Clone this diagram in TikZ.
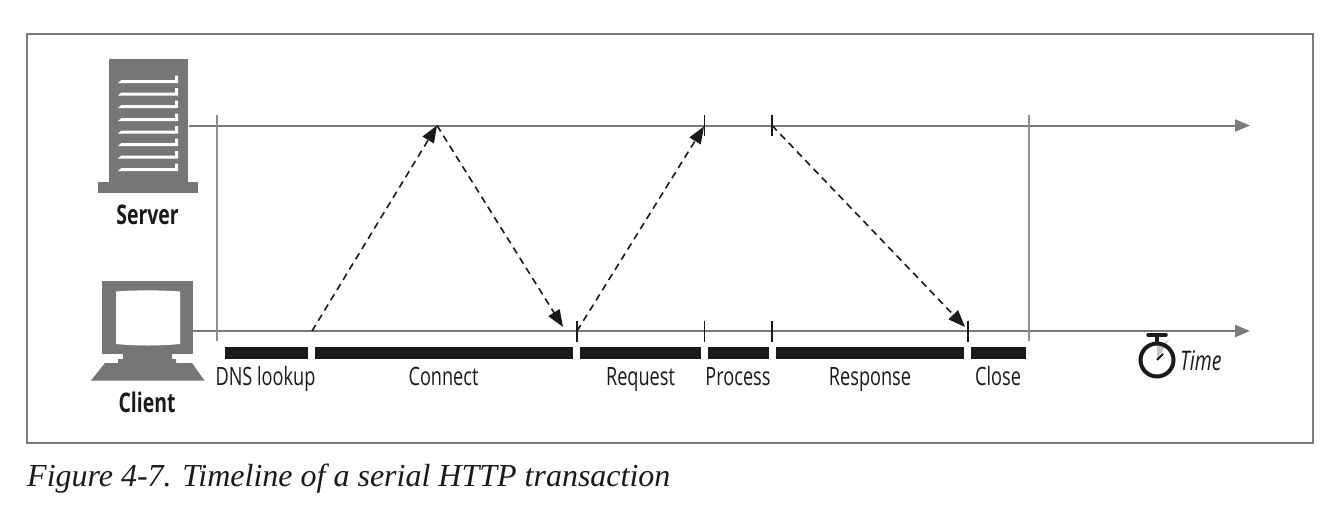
\documentclass[tikz,border=0pt]{standalone}
\usepackage{fontspec}
\setmainfont[FakeStretch=0.72]{Open Sans}
\newfontfamily\capfont{Liberation Serif}
\usetikzlibrary{arrows.meta}
\definecolor{icon}{HTML}{767676}
\definecolor{axisc}{HTML}{7A7A7A}
\definecolor{barc}{HTML}{1A1A1A}
\tikzset{
  axisline/.style={draw=axisc,line width=2pt,-{Triangle[length=15pt,width=12pt,fill=axisc]}},
  guide/.style={draw=axisc!85,line width=2pt},
  tick/.style={draw=barc,line width=1.8pt},
  msg/.style={draw=barc,line width=1.6pt,dash pattern=on 7pt off 5pt,-{Triangle[length=17pt,width=13pt,fill=barc]}},
  bar/.style={fill=barc,draw=none},
  lab/.style={font=\fontsize{25.2}{25}\selectfont,text=barc,inner sep=0pt,anchor=base},
  host/.style={font=\fontsize{27}{27}\selectfont\bfseries,text=barc,inner sep=0pt,anchor=base},
  slot/.style={fill=white,draw=none}
}
\begin{document}
\begin{tikzpicture}[x=1pt,y=-1pt]
\useasboundingbox (0,0) rectangle (1332,512);
\fill[white] (0,0) rectangle (1332,512);
\draw[draw=axisc,line width=1.4pt] (27,34) rectangle (1313,443);
% server icon
\fill[icon] (108.5,59) rectangle (187.5,182);
\fill[icon] (98,182) rectangle (197.5,192.5);
\foreach \y in {81.5,94,106.5,119.5,132,144.5,157,169.5}{
  \fill[slot] (118,\y+1.5) -- (121.5,\y-1.5) -- (175,\y-1.5) -- (175,\y-6) -- (178,\y-6) -- (178,\y+1.5) -- cycle;
}
% client icon
\fill[icon] (102,281) rectangle (192.5,354);
\fill[white] (116,291.5) .. controls (135,290) and (160,290) .. (180,291.5) -- (180,344) .. controls (160,346) and (135,346) .. (116,344) -- cycle;
\fill[icon] (123,354) -- (172,354) -- (172,359) -- (176,359) -- (176,363) -- (192,363) -- (204.5,380.5) -- (91,380.5) -- (105,363) -- (118,363) -- (118,359) -- (123,359) -- cycle;
\node[host] (server) at (147.5,224.5) {Server};
\node[host] (client) at (147,412.5) {Client};
% axes
\coordinate (s0) at (189,125.5);
\coordinate (s1) at (1250,125.5);
\coordinate (c0) at (192.5,331);
\coordinate (c1) at (1250,331);
\draw[axisline] (s0) -- (s1);
\draw[axisline] (c0) -- (c1);
\coordinate (gat) at (217,115); \coordinate (gab) at (217,341);
\coordinate (gbt) at (1029,115); \coordinate (gbb) at (1029,341);
\draw[guide] (gat) -- (gab);
\draw[guide] (gbt) -- (gbb);
% ticks
\foreach \n/\x/\y in {ta/577/331,tb/704.5/331,tc/772/331,td/968/331,te/704.5/125.5,tf/772/125.5}{
  \coordinate (\n) at (\x,\y);
  \draw[tick] (\x,\y-10.5) -- (\x,\y+10.5);
}
% messages
\coordinate (m0) at (312,331);
\coordinate (m1) at (437,125.5);
\draw[msg] (m0) -- (m1);
\coordinate (m2) at (563,327);
\draw[msg] (m1) -- (m2);
\coordinate (m3) at (704,126.5);
\draw[msg] (ta) -- (m3);
\coordinate (m4) at (965,327);
\draw[msg] (tf) -- (m4);
% bars
\foreach \a/\b in {224.5/308,315/573,580/701,708/769,776/964,971/1026}{
  \fill[bar] (\a,346.5) rectangle (\b,359);
}
% labels
\node[lab] (l1) at (265.5,385.5) {DNS lookup};
\node[lab] (l2) at (443.5,385.5) {Connect};
\node[lab] (l3) at (640.5,385.5) {Request};
\node[lab] (l4) at (738,385.5) {Process};
\node[lab] (l5) at (870,385.5) {Response};
\node[lab] (l6) at (998,385.5) {Close};
% stopwatch
\fill[black!22] (1157,360) -- (1157,345) arc[start angle=90,end angle=30,radius=15] -- cycle;
\draw[barc,line width=4pt] (1157,360) circle[radius=16.5];
\draw[barc,line width=3.5pt] (1157,344) -- (1157,336);
\draw[barc,line width=3.5pt,line cap=round] (1148,335) -- (1166,335);
\draw[barc,line width=2pt] (1157,360) -- (1163,354);
\node[lab,font=\fontsize{27}{27}\selectfont\itshape,anchor=base west] (time) at (1180,370) {Time};
% caption
\node[font=\capfont\itshape\fontsize{32}{32}\selectfont,text=barc,inner sep=0pt,anchor=base west] (cap) at (27,486) {Figure 4-7. Timeline of a serial HTTP transaction};
\end{tikzpicture}
\end{document}
